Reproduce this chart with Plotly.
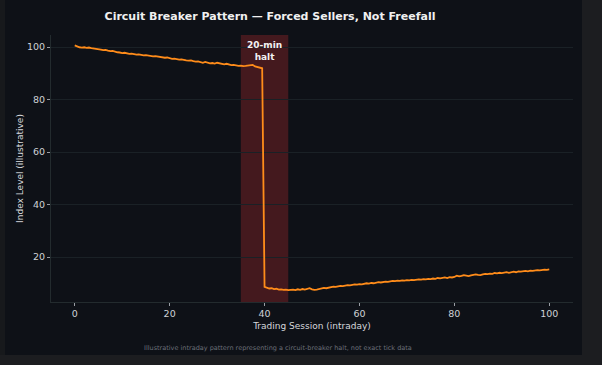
import numpy as np
import plotly.graph_objects as go

# ---- data ----
session = np.arange(0, 100.5, 0.5)
index_level = [
    100.6, 100.2, 99.9, 99.8, 99.9, 99.7, 99.8, 99.6, 99.5, 99.4,
    99.1, 99.0, 98.8, 98.9, 98.6, 98.4, 98.5, 98.2, 98.0, 97.9,
    97.7, 97.8, 97.6, 97.4, 97.5, 97.3, 97.1, 97.2, 97.0, 96.8,
    96.9, 96.7, 96.6, 96.4, 96.5, 96.3, 96.2, 96.0, 95.9, 96.0,
    95.7, 95.5, 95.6, 95.4, 95.2, 95.3, 95.0, 94.9, 94.8, 94.9,
    94.6, 94.4, 94.5, 94.2, 94.0, 94.3, 94.1, 93.8, 93.9, 93.7,
    94.0, 93.8, 93.5, 93.4, 93.6, 93.3, 93.1, 93.2, 93.0, 92.8,
    92.9, 92.7, 92.8, 92.9, 93.0, 93.2, 92.6, 92.3, 92.2, 91.9,
    8.6, 8.2, 8.0, 8.1, 7.8, 7.9, 7.6, 7.7, 7.5, 7.6,
    7.4, 7.5, 7.6, 7.4, 7.7, 7.5, 7.8, 7.6, 7.9, 8.1,
    7.7, 7.5, 7.6, 7.8, 8.0, 8.2, 8.1, 8.4, 8.5, 8.7,
    8.6, 8.9, 9.0, 8.9, 9.1, 9.3, 9.2, 9.4, 9.6, 9.5,
    9.7, 9.6, 9.8, 10.0, 9.9, 10.1, 10.0, 10.2, 10.4, 10.3,
    10.5, 10.6, 10.5, 10.7, 10.9, 10.8, 11.0, 10.9, 11.1, 11.0,
    11.2, 11.1, 11.3, 11.2, 11.4, 11.5, 11.4, 11.6, 11.5, 11.7,
    11.6, 11.8, 11.7, 12.0, 11.9, 12.1, 12.2, 12.0, 12.3, 12.2,
    12.4, 12.9, 12.6, 12.8, 13.1, 12.9, 12.7, 13.0, 13.3, 13.4,
    13.2, 13.1, 13.4, 13.6, 13.5, 13.7, 13.6, 13.9, 13.8, 14.0,
    13.9, 14.1, 14.2, 14.0, 14.3, 14.4, 14.2, 14.5, 14.4, 14.6,
    14.7, 14.5, 14.8, 14.7, 14.9, 15.0, 14.9, 15.1, 15.2, 15.1,
    15.3,
]
halt_start = 35
halt_end = 45
halt_label = "<b>20-min<br>halt</b>"
x_ticks = [0, 20, 40, 60, 80, 100]
y_ticks = [20, 40, 60, 80, 100]

# ---- figure ----
W, H = 602, 365
L, R, T, B = 51, 573, 35, 302
pw, ph = R - L, B - T


def px(p):
    return (p - L) / pw


def py(p):
    return (B - p) / ph


FONT = "DejaVu Sans"
BG = "#0e1117"
OUTER = "#1c1d20"

fig = go.Figure()
fig.add_trace(go.Scatter(
    x=session, y=index_level, mode="lines",
    line=dict(color="#ff8c1a", width=1.8),
    showlegend=False, hoverinfo="skip",
))

fig.add_vrect(x0=halt_start, x1=halt_end, fillcolor="#44191e", opacity=1,
              line_width=0, layer="below")

fig.add_annotation(x=(halt_start + halt_end) / 2, y=py(51), xref="x", yref="paper",
                   yanchor="middle", xanchor="center",
                   text=halt_label, showarrow=False,
                   font=dict(family=FONT, size=9, color="#f2f2f2"))

# outer screenshot strips
fig.add_shape(type="rect", xref="paper", yref="paper",
              x0=px(582), x1=px(W + 2), y0=py(-2), y1=py(H + 2),
              fillcolor=OUTER, line_width=0, layer="below")
fig.add_shape(type="rect", xref="paper", yref="paper",
              x0=px(-2), x1=px(W + 2), y0=py(355), y1=py(H + 2),
              fillcolor=OUTER, line_width=0, layer="below")
fig.add_shape(type="rect", xref="paper", yref="paper",
              x0=px(-2), x1=px(5), y0=py(-2), y1=py(355),
              fillcolor="#17191c", line_width=0, layer="below")

fig.add_annotation(x=px(278), y=py(348), xref="paper", yref="paper",
                   yanchor="middle", xanchor="center",
                   text="Illustrative intraday pattern representing a circuit-breaker halt, not exact tick data",
                   showarrow=False, font=dict(family=FONT, size=6.5, color="#6c7078"))

fig.update_layout(
    width=W, height=H,
    margin=dict(l=L, r=W - R, t=T, b=H - B),
    paper_bgcolor=BG, plot_bgcolor=BG,
    title=dict(text="<b>Circuit Breaker Pattern — Forced Sellers, Not Freefall</b>",
               xref="container", x=270 / W, xanchor="center",
               yref="container", y=1 - 16 / H, yanchor="middle",
               font=dict(family=FONT, size=11, color="#f0f0f0")),
    font=dict(family=FONT, color="#cfd2d6"),
)
fig.update_xaxes(
    range=[-5, 105], tickvals=x_ticks, showgrid=False, zeroline=False,
    showline=True, linecolor="#232b2e", linewidth=1,
    ticks="outside", ticklen=3, tickcolor="#9a9ea4",
    tickfont=dict(family=FONT, size=9.5, color="#cfd2d6"),
    title=dict(text="Trading Session (intraday)", standoff=4,
               font=dict(family=FONT, size=9, color="#d6d8dc")),
)
fig.update_yaxes(
    range=[2.86, 104.57], tickvals=y_ticks, showgrid=True, gridcolor="#1a2126",
    gridwidth=1, zeroline=False,
    showline=True, linecolor="#232b2e", linewidth=1,
    ticks="outside", ticklen=3, tickcolor="#9a9ea4",
    tickfont=dict(family=FONT, size=9.5, color="#cfd2d6"),
    title=dict(text="Index Level (illustrative)", standoff=1,
               font=dict(family=FONT, size=9, color="#d6d8dc")),
)

fig.write_html("out.html")
